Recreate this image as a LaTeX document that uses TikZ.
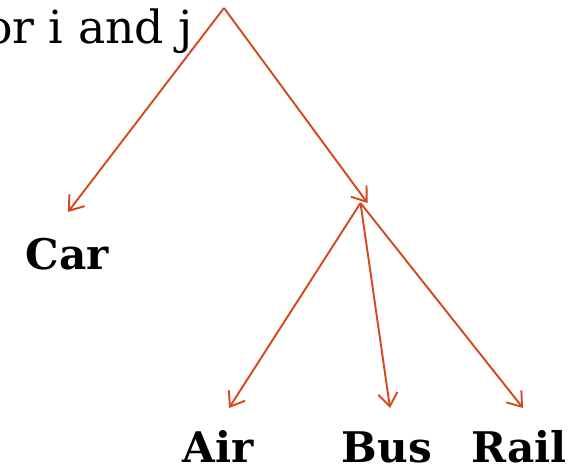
\documentclass[tikz,border=0pt]{standalone}
\usepackage{fontspec}
\setmainfont{DejaVu Serif}
\usepackage{tikz}
\usetikzlibrary{arrows.meta, positioning}
\definecolor{branch}{RGB}{212, 74, 32}

\begin{document}
\begin{tikzpicture}[
    x=0.02cm, y=-0.02cm,
    arr/.style={line width=1.1pt, color=branch, -{Straight Barb[length=7.5pt, width=11pt, line width=1.1pt]}},
    mode/.style={font=\fontsize{24}{27}\selectfont\bfseries, anchor=base, inner sep=0pt},
    head/.style={font=\fontsize{26}{30}\selectfont, anchor=base east, inner sep=0pt}
]
\useasboundingbox (0,0) rectangle (573,469);

\node[head] (title) at (193,44) {or i and j};

\coordinate (root) at (224,8);
\coordinate (nest) at (364,203);
\coordinate (carTip) at (68,212);
\coordinate (airTip) at (229,408);
\coordinate (busTip) at (390,408);
\coordinate (railTip) at (523,408);

\node[mode] (car) at (67,269) {Car};
\node[mode] (air) at (218,462) {Air};
\node[mode] (bus) at (387,462) {Bus};
\node[mode] (rail) at (519,462) {Rail};

\draw[arr] (root) -- (carTip);
\draw[arr] (root) -- ([xshift=2]nest);
\draw[arr] ([xshift=-2]nest) -- (airTip);
\draw[arr] ([xshift=-2]nest) -- (busTip);
\draw[arr] ([xshift=-2]nest) -- (railTip);
\end{tikzpicture}
\end{document}
